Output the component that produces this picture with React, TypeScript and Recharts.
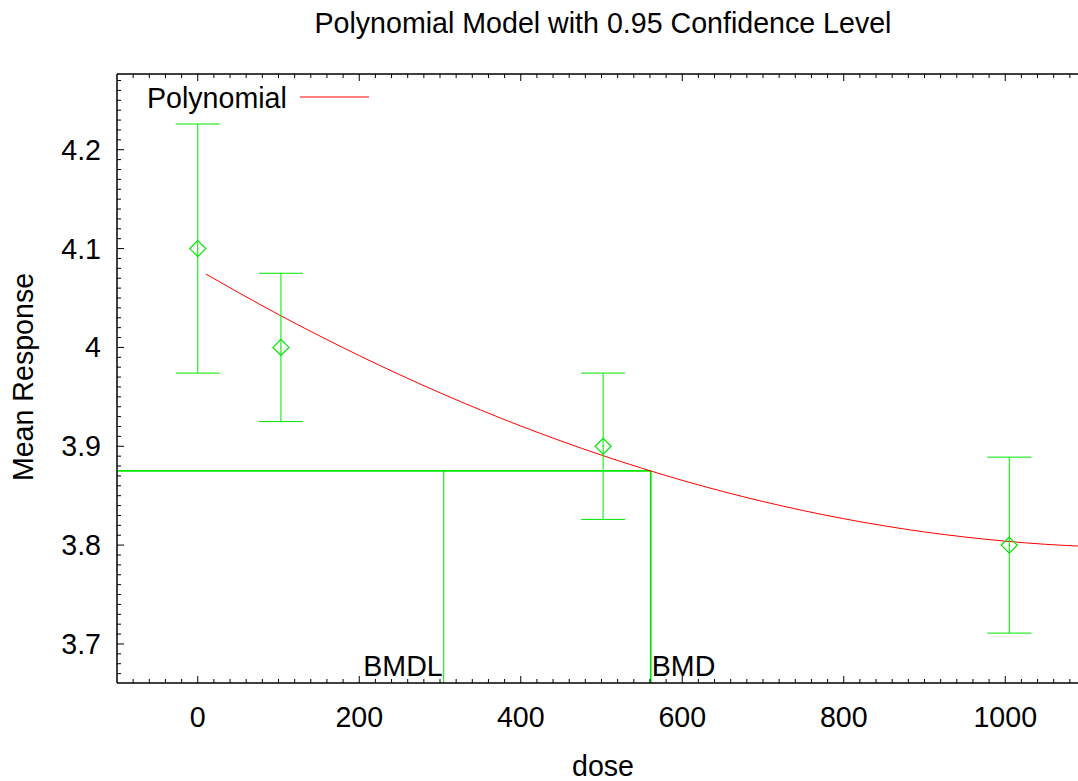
import React from 'react';
import { ComposedChart, Line, Scatter, XAxis, YAxis, ErrorBar } from 'recharts';

// ---- data ----
const doses = [0, 103, 502, 1005];
const means = [4.1, 4.0, 3.9, 3.8];
const lowerCI = [3.974, 3.925, 3.826, 3.711];
const upperCI = [4.226, 4.075, 3.974, 3.889];

const curveDose = [10, 50, 100, 150, 200, 250, 300, 350, 400, 450, 500, 550, 600, 650, 700, 750, 800, 850, 900, 950, 1000, 1050, 1100];
const curveResp = [4.0743, 4.0557, 4.0333, 4.012, 3.9917, 3.9724, 3.9541, 3.9368, 3.9205, 3.9053, 3.891, 3.8778, 3.8655, 3.8543, 3.8441, 3.8349, 3.8267, 3.8195, 3.8133, 3.8082, 3.804, 3.8008, 3.7987];

const bmrLevel = 3.875;
const bmdlDose = 304.6;
const bmdDose = 561;

const xDomain: [number, number] = [-100, 1100];
const yDomain: [number, number] = [3.6605, 4.2766];
const xMajorTicks = [0, 200, 400, 600, 800, 1000];
const yMajorTicks = [3.7, 3.8, 3.9, 4.0, 4.1, 4.2];
const yTickLabels = ['3.7', '3.8', '3.9', '4', '4.1', '4.2'];

const title = 'Polynomial Model with 0.95 Confidence Level';
const xTitle = 'dose';
const yTitle = 'Mean Response';
const legendName = 'Polynomial';

// ---- derived tables ----
const pointData = doses.map((d, i) => ({
  dose: d,
  resp: means[i],
  err: [means[i] - lowerCI[i], upperCI[i] - means[i]],
}));
const curveData = curveDose.map((d, i) => ({ dose: d, resp: curveResp[i] }));
const bmrHoriz = [{ dose: xDomain[0], resp: bmrLevel }, { dose: bmdDose, resp: bmrLevel }];
const bmdlVert = [{ dose: bmdlDose, resp: bmrLevel }, { dose: bmdlDose, resp: yDomain[0] }];
const bmdVert = [{ dose: bmdDose, resp: bmrLevel }, { dose: bmdDose, resp: yDomain[0] }];
const bmdlLabel = [{ dose: bmdlDose, resp: yDomain[0] }];
const bmdLabel = [{ dose: bmdDose, resp: yDomain[0] }];

const xTicks: number[] = [];
for (let k = -4; k <= 54; k++) xTicks.push(k * 20);
const yTicks: number[] = [];
for (let k = 367; k <= 427; k++) yTicks.push(k / 100);

const FONT = 'Liberation Sans, Arial, Helvetica, sans-serif';
const GREEN = '#00e600';
const FS = 28.6;

const isXMajor = (v: number) => xMajorTicks.some((m) => Math.abs(m - v) < 1e-6);
const yMajorIndex = (v: number) => yMajorTicks.findIndex((m) => Math.abs(m - v) < 1e-6);

const BottomTick = (p: any) => {
  const v = p.payload.value;
  const major = isXMajor(v);
  return (
    <g>
      <line x1={p.x} x2={p.x} y1={p.y} y2={p.y - (major ? 7 : 4)} stroke="#000" strokeWidth={1} />
      {major ? (
        <text x={p.x} y={p.y + 44} textAnchor="middle" fontFamily={FONT} fontSize={FS} fill="#000">
          {v}
        </text>
      ) : null}
    </g>
  );
};

const TopTick = (p: any) => {
  const v = p.payload.value;
  const major = isXMajor(v);
  return <line x1={p.x} x2={p.x} y1={p.y} y2={p.y + (major ? 7 : 4)} stroke="#000" strokeWidth={1} />;
};

const LeftTick = (p: any) => {
  const v = p.payload.value;
  const idx = yMajorIndex(v);
  const major = idx >= 0;
  return (
    <g>
      <line x1={p.x} x2={p.x + (major ? 7 : 4)} y1={p.y} y2={p.y} stroke="#000" strokeWidth={1} />
      {major ? (
        <text x={p.x - 16} y={p.y + 10} textAnchor="end" fontFamily={FONT} fontSize={FS} fill="#000">
          {yTickLabels[idx]}
        </text>
      ) : null}
    </g>
  );
};

const Diamond = (p: any) => {
  const { cx, cy } = p;
  if (cx == null || cy == null) return null;
  const r = 8;
  return (
    <g>
      <path d={`M${cx},${cy - r}L${cx + r},${cy}L${cx},${cy + r}L${cx - r},${cy}Z`} fill="none" stroke={GREEN} strokeWidth={1.2} />
      <rect x={cx - 0.5} y={cy - 0.5} width={1} height={1} fill={GREEN} />
    </g>
  );
};

const makeLabel = (txt: string, anchor: 'start' | 'end') => (p: any) => {
  const { cx, cy } = p;
  if (cx == null || cy == null) return null;
  return (
    <text x={anchor === 'end' ? cx - 1 : cx + 1} y={cy - 7} textAnchor={anchor} fontFamily={FONT} fontSize={FS} fill="#000">
      {txt}
    </text>
  );
};

export default function App() {
  return (
    <div style={{ position: 'absolute', left: 0, top: 0, width: 1078, height: 781, overflow: 'hidden', background: '#fff' }}>
      <div style={{ position: 'absolute', left: 0, top: 0 }}>
        <ComposedChart width={1100} height={781} margin={{ top: 73, right: 14, bottom: 38, left: 17 }}>
          <XAxis
            dataKey="dose"
            type="number"
            domain={xDomain}
            allowDataOverflow
            ticks={xTicks}
            interval={0}
            tickSize={0}
            tickMargin={0}
            tickLine={false}
            tick={<BottomTick />}
            height={60}
            axisLine={{ stroke: '#000', strokeWidth: 1.5 }}
          />
          <XAxis
            xAxisId="top"
            orientation="top"
            dataKey="dose"
            type="number"
            domain={xDomain}
            allowDataOverflow
            ticks={xTicks}
            interval={0}
            tickSize={0}
            tickMargin={0}
            tickLine={false}
            tick={<TopTick />}
            height={1}
            axisLine={{ stroke: '#000', strokeWidth: 1.5 }}
          />
          <YAxis
            type="number"
            domain={yDomain}
            allowDataOverflow
            ticks={yTicks}
            interval={0}
            tickSize={0}
            tickMargin={0}
            tickLine={false}
            tick={<LeftTick />}
            width={100}
            axisLine={{ stroke: '#000', strokeWidth: 1.5 }}
          />
          <Line data={bmrHoriz} dataKey="resp" stroke={GREEN} strokeWidth={1.7} dot={false} isAnimationActive={false} />
          <Line data={bmdlVert} dataKey="resp" stroke={GREEN} strokeWidth={1} dot={false} isAnimationActive={false} />
          <Line data={bmdVert} dataKey="resp" stroke={GREEN} strokeWidth={1.7} dot={false} isAnimationActive={false} />
          <Line data={curveData} dataKey="resp" type="monotone" stroke="#ff0000" strokeWidth={1} dot={false} isAnimationActive={false} />
          <Scatter data={pointData} dataKey="resp" shape={<Diamond />} isAnimationActive={false}>
            <ErrorBar dataKey="err" direction="y" width={22} stroke={GREEN} strokeWidth={1} />
          </Scatter>
          <Scatter data={bmdlLabel} dataKey="resp" shape={makeLabel('BMDL', 'end')} isAnimationActive={false} />
          <Scatter data={bmdLabel} dataKey="resp" shape={makeLabel('BMD', 'start')} isAnimationActive={false} />
        </ComposedChart>
      </div>
      <svg width={1078} height={781} style={{ position: 'absolute', left: 0, top: 0, pointerEvents: 'none' }}>
        <text x={603} y={33} textAnchor="middle" fontFamily={FONT} fontSize={FS} fill="#000">{title}</text>
        <text x={603} y={776} textAnchor="middle" fontFamily={FONT} fontSize={FS} fill="#000">{xTitle}</text>
        <text x={33} y={377} textAnchor="middle" fontFamily={FONT} fontSize={FS} fill="#000" transform="rotate(-90 33 377)">{yTitle}</text>
        <text x={147} y={108} fontFamily={FONT} fontSize={FS} fill="#000">{legendName}</text>
        <line x1={300} x2={369} y1={97} y2={97} stroke="#ff0000" strokeWidth={1} />
      </svg>
    </div>
  );
}
